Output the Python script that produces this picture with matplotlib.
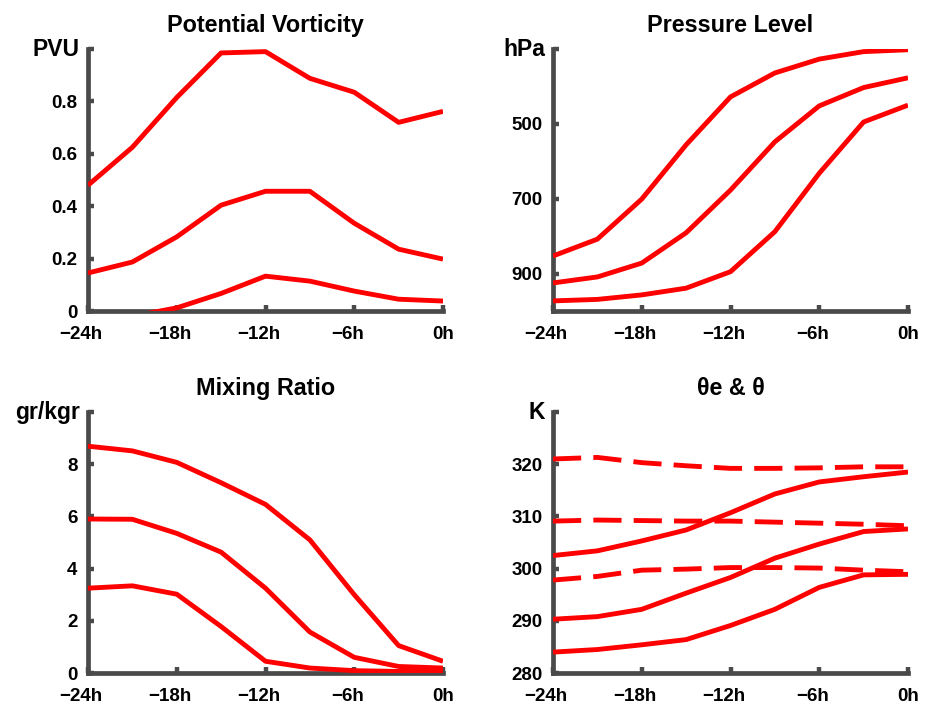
import numpy as np
import matplotlib
matplotlib.use("Agg")
import matplotlib.pyplot as plt
from matplotlib.transforms import ScaledTranslation

hours = [-24, -21, -18, -15, -12, -9, -6, -3, 0]
xtick_pos = [-24, -18, -12, -6, 0]
xtick_labels = ["\u221224h", "\u221218h", "\u221212h", "\u22126h", "0h"]

# Potential vorticity (PVU)
pv_high = [0.48, 0.625, 0.815, 0.985, 0.99, 0.888, 0.835, 0.72, 0.762]
pv_mid = [0.145, 0.187, 0.283, 0.404, 0.457, 0.457, 0.335, 0.236, 0.198]
pv_low = [-0.06, -0.02, 0.012, 0.067, 0.133, 0.114, 0.076, 0.045, 0.038]

# Pressure level (hPa)
p_early = [853, 808, 701, 556, 428, 364, 327, 307, 302]
p_mid = [925, 909, 872, 791, 677, 548, 452, 403, 377]
p_late = [973, 969, 957, 939, 895, 788, 632, 495, 450]

# Mixing ratio (gr/kgr)
q_high = [8.69, 8.51, 8.07, 7.29, 6.46, 5.10, 3.0, 1.05, 0.45]
q_mid = [5.9, 5.89, 5.35, 4.63, 3.25, 1.57, 0.6, 0.25, 0.19]
q_low = [3.25, 3.34, 3.02, 1.78, 0.45, 0.19, 0.09, 0.06, 0.09]

# Theta (solid) and theta-e (dashed), K
th_1 = [302.5, 303.4, 305.3, 307.4, 310.7, 314.3, 316.6, 317.6, 318.5]
th_2 = [290.3, 290.8, 292.2, 295.3, 298.3, 302.0, 304.7, 307.1, 307.6]
th_3 = [284.0, 284.5, 285.4, 286.4, 289.1, 292.2, 296.4, 298.8, 298.9]
the_1 = [321.0, 321.3, 320.3, 319.7, 319.2, 319.2, 319.3, 319.5, 319.5]
the_2 = [309.1, 309.3, 309.2, 309.1, 309.1, 308.9, 308.7, 308.5, 308.2]
the_3 = [297.8, 298.5, 299.7, 299.9, 300.2, 300.2, 300.1, 299.7, 299.4]

plt.rcParams['font.family'] = ['Liberation Sans', 'DejaVu Sans']

fig = plt.figure(figsize=(9.35, 7.05), dpi=100)
W, H = 935, 705

def make_ax(left, top, right, bottom):
    return fig.add_axes([left / W, 1 - bottom / H, (right - left) / W, (bottom - top) / H])

ax1 = make_ax(88, 49, 443, 311)
ax2 = make_ax(553, 49, 908, 311)
ax3 = make_ax(88, 412, 443, 673)
ax4 = make_ax(553, 412, 908, 673)

spine_col = '#4a4a4a'
LW = 3.5

def style(ax, title, ylim, yticks, ylabels, unit, invert=False):
    ax.set_xlim(-24, 0)
    ax.set_ylim(*ylim)
    if invert:
        ax.invert_yaxis()
    for s in ['top', 'right']:
        ax.spines[s].set_visible(False)
    for s in ['left', 'bottom']:
        ax.spines[s].set_color(spine_col)
        ax.spines[s].set_linewidth(3.4)
        ax.spines[s].set_capstyle('projecting')
    ax.set_xticks(xtick_pos)
    ax.set_xticklabels(xtick_labels)
    ax.set_yticks(yticks)
    ax.set_yticklabels(ylabels)
    ax.tick_params(direction='in', length=4.5, width=3.2, color=spine_col,
                   labelsize=13.5)
    ax.tick_params(axis='x', pad=10.5)
    ax.tick_params(axis='y', pad=7.5)
    for lab in ax.get_xticklabels() + ax.get_yticklabels():
        lab.set_fontweight('bold')
    for lab, txt in zip(ax.get_xticklabels(), xtick_labels):
        if txt.startswith('\u2212'):
            lab.set_transform(lab.get_transform() + ScaledTranslation(-7 / 100, 0, fig.dpi_scale_trans))
    ax.set_title(title, fontsize=16.8, fontweight='bold', pad=12)
    ax.text(0, 1, unit, transform=ax.transAxes + ScaledTranslation(-8 / 100, 0, fig.dpi_scale_trans),
            ha='right', va='center', fontsize=16.5, fontweight='bold')

def line(ax, y, dashed=False):
    l, = ax.plot(hours, y, color='#ff0000', lw=LW, solid_capstyle='butt',
                 solid_joinstyle='round', clip_on=True, zorder=3)
    if dashed:
        l.set_dashes((5.8, 2.5))
        l.set_dash_capstyle('butt')
    return l

for y in (pv_high, pv_mid, pv_low):
    line(ax1, y)
style(ax1, 'Potential Vorticity', (0, 1.0), [0, 0.2, 0.4, 0.6, 0.8, 1.0],
      ['0', '0.2', '0.4', '0.6', '0.8', ''], 'PVU')

for y in (p_early, p_mid, p_late):
    line(ax2, y)
style(ax2, 'Pressure Level', (1000, 300), [300, 500, 700, 900],
      ['', '500', '700', '900'], 'hPa')

for y in (q_high, q_mid, q_low):
    line(ax3, y)
style(ax3, 'Mixing Ratio', (0, 10), [0, 2, 4, 6, 8, 10],
      ['0', '2', '4', '6', '8', ''], 'gr/kgr')

for y in (th_1, th_2, th_3):
    line(ax4, y)
for y in (the_1, the_2, the_3):
    line(ax4, y, dashed=True)
style(ax4, '\u03b8e & \u03b8', (280, 330), [280, 290, 300, 310, 320, 330],
      ['280', '290', '300', '310', '320', ''], 'K')

fig.savefig('out.png', dpi=100, facecolor='white')
